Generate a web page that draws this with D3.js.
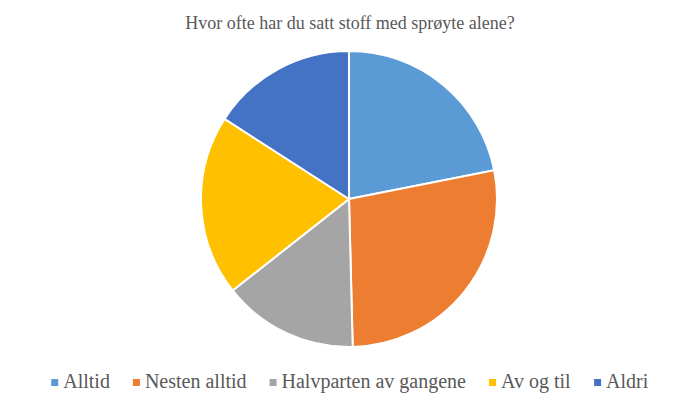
<!DOCTYPE html>
<html><head><meta charset="utf-8">
<script src="https://cdn.jsdelivr.net/npm/d3@7"></script>
<style>body{margin:0;background:#fff}svg{display:block}
text{font-family:"Liberation Serif","Times New Roman",Times,"DejaVu Serif",serif}</style>
</head><body>
<svg id="chart" width="700" height="405"></svg>
<script>
const title = "Hvor ofte har du satt stoff med sprøyte alene?";
const categories = ["Alltid", "Nesten alltid", "Halvparten av gangene", "Av og til", "Aldri"];
const values = [21.9, 27.7, 14.8, 19.7, 15.9];
const colors = ["#5B9BD5", "#ED7D31", "#A5A5A5", "#FFC000", "#4472C4"];

const svg = d3.select("#chart");
const cx = 349, cy = 199, R = 148;

svg.append("text").attr("x", 350).attr("y", 29).attr("text-anchor", "middle")
  .attr("font-size", 18).attr("fill", "#595959").text(title);

const data = categories.map((c, i) => ({c, v: values[i], col: colors[i]}));
const pie = d3.pie().value(d => d.v).sort(null);
const arc = d3.arc().innerRadius(0).outerRadius(R);
svg.append("g").attr("transform", `translate(${cx},${cy})`)
  .selectAll("path").data(pie(data)).join("path")
  .attr("d", arc).attr("fill", d => d.data.col)
  .attr("stroke", "#fff").attr("stroke-width", 2).attr("stroke-linejoin", "round");

// legend
const lg = svg.append("g");
const items = lg.selectAll("g").data(data).join("g");
items.append("rect").attr("width", 7).attr("height", 7).attr("y", -9).attr("fill", d => d.col);
items.append("text").attr("x", 12).attr("y", 0)
  .attr("font-size", 20).attr("fill", "#595959").text(d => d.c);
let x = 0; const gap = 23; const xs = [];
items.each(function() {
  const w = this.getBBox().width;
  xs.push(x); x += w + gap;
});
const total = x - gap;
const startX = 350 - total / 2;
items.attr("transform", (d, i) => `translate(${startX + xs[i]},388)`);
</script>
</body></html>
